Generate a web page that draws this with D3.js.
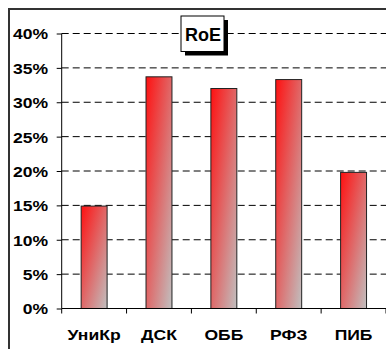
<!DOCTYPE html>
<html><head><meta charset="utf-8">
<script src="https://cdn.jsdelivr.net/npm/d3@7"></script>
<style>html,body{margin:0;padding:0;background:#fff;}svg{display:block;}</style>
</head><body>
<script>
const categories = ["УниКр", "ДСК", "ОББ", "РФЗ", "ПИБ"];
const values = [14.9, 33.7, 32.0, 33.3, 19.8];
const yTicks = [0, 5, 10, 15, 20, 25, 30, 35, 40];
const title = "RoE";

(function () {
const W = 386, H = 349;
const FONT = "'Liberation Sans', Arial, sans-serif";
const SX = 1.17;
const svg = d3.select("body").append("svg").attr("width", W).attr("height", H);
const defs = svg.append("defs");
const g = defs.append("linearGradient").attr("id", "barGrad")
  .attr("x1", 0).attr("y1", 0).attr("x2", 1).attr("y2", 1);
g.append("stop").attr("offset", "0%").attr("stop-color", "#ff1010");
g.append("stop").attr("offset", "100%").attr("stop-color", "#c0c0c0");

const pl = 61.7, pr = 386, pt = 33.5, pb = 308.5;
const x = d3.scaleBand().domain(categories).range([pl, pr]).paddingInner(0.6).paddingOuter(0.3);
const y = d3.scaleLinear().domain([0, 40]).range([pb, pt]);

// frame
svg.append("path").attr("d", `M9,${H} L9,9 L${W},9`).attr("fill", "none")
  .attr("stroke", "#333").attr("stroke-width", 2);

// gridlines
svg.append("g").selectAll("line").data(yTicks.filter(d => d > 0)).join("line")
  .attr("x1", pl).attr("x2", pr).attr("y1", d => y(d)).attr("y2", d => y(d))
  .attr("stroke", "#000").attr("stroke-width", 1).attr("stroke-dasharray", "7,4");

// bars
svg.append("g").selectAll("rect").data(categories).join("rect")
  .attr("x", d => x(d)).attr("width", x.bandwidth())
  .attr("y", (d, i) => y(values[i])).attr("height", (d, i) => y(0) - y(values[i]))
  .attr("fill", "url(#barGrad)").attr("stroke", "#222").attr("stroke-width", 1);

// y axis
const yAxis = d3.axisLeft(y).tickValues(yTicks).tickFormat(d => d + "%").tickSize(5).tickPadding(6.7);
const ya = svg.append("g").attr("transform", `translate(${pl},0)`).call(yAxis);
ya.select(".domain").attr("stroke", "#000").attr("d", `M0,${pt}V${pb}`);
ya.selectAll(".tick line").attr("stroke", "#000");
ya.selectAll(".tick text").attr("font-family", FONT)
  .attr("font-weight", "bold").attr("font-size", 15).attr("fill", "#000")
  .attr("dy", "0.36em").attr("transform", `scale(${SX},1)`);

// x axis
const xAxis = d3.axisBottom(x).tickSize(0).tickPadding(21);
const xa = svg.append("g").attr("transform", `translate(0,${pb})`).call(xAxis);
xa.select(".domain").attr("stroke", "#000").attr("d", `M${pl},0H${pr}`);
xa.selectAll(".tick text").attr("font-family", FONT)
  .attr("font-weight", "bold").attr("font-size", 15).attr("fill", "#000")
  .attr("transform", `scale(${SX},1)`);
// category boundary ticks
svg.append("g").selectAll("line").data(d3.range(categories.length + 1)).join("line")
  .attr("x1", i => pl + i * x.step()).attr("x2", i => pl + i * x.step())
  .attr("y1", pb).attr("y2", pb + 5).attr("stroke", "#000");

// title box
const tb = { x: 181, y: 16, w: 43, h: 35.5 };
svg.append("rect").attr("x", tb.x + 4).attr("y", tb.y + 4).attr("width", tb.w).attr("height", tb.h).attr("fill", "#000");
svg.append("rect").attr("x", tb.x).attr("y", tb.y).attr("width", tb.w).attr("height", tb.h)
  .attr("fill", "#fff").attr("stroke", "#000").attr("stroke-width", 1);
svg.append("text").attr("x", tb.x + tb.w / 2 + 0.5).attr("y", tb.y + 25)
  .attr("text-anchor", "middle").attr("font-family", FONT)
  .attr("font-weight", "bold").attr("font-size", 18).attr("fill", "#000").text(title);
})();
</script>
</body></html>
